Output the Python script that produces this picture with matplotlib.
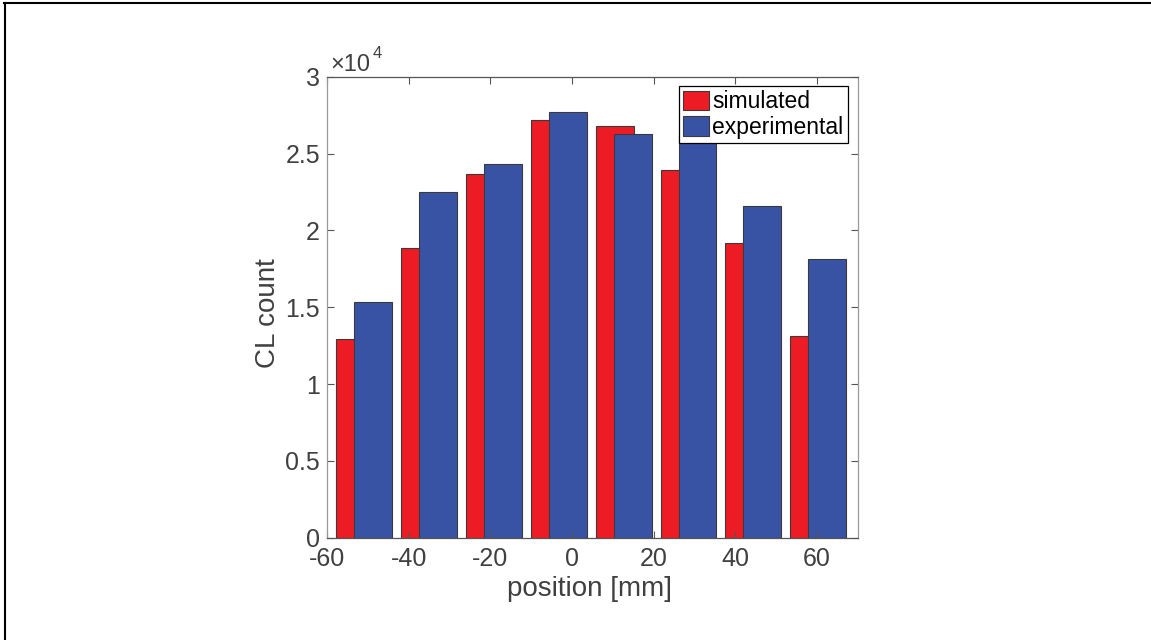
import numpy as np
import matplotlib
matplotlib.use('Agg')
import matplotlib.pyplot as plt
from matplotlib.ticker import FuncFormatter
from matplotlib.lines import Line2D
from matplotlib.transforms import offset_copy

plt.rcParams['font.family'] = ['Liberation Sans', 'DejaVu Sans']
plt.rcParams['axes.unicode_minus'] = False

# group centres [mm]
positions = [-50.95, -35.05, -19.15, -3.25, 12.65, 28.55, 44.45, 60.35]
simulated = [12950, 18870, 23640, 27160, 26820, 23900, 19150, 13150]
experimental = [15320, 22470, 24290, 27680, 26270, 26180, 21600, 18120]

xticks = [-60, -40, -20, 0, 20, 40, 60]
yticks = [0, 5000, 10000, 15000, 20000, 25000, 30000]

red = '#ED1C24'
blue = '#3953A4'
txt = '#404040'
edge = '#3a3a3a'

fig = plt.figure(figsize=(11.51, 6.40), dpi=100)
ax = fig.add_axes([0.2841, 0.1598, 0.4611, 0.7204])

pos = np.array(positions)
ax.bar(pos - 2.2, simulated, width=9.3, color=red, edgecolor=edge, linewidth=0.8, label='simulated')
ax.bar(pos + 2.2, experimental, width=9.3, color=blue, edgecolor=edge, linewidth=0.8, label='experimental')

ax.set_xlim(-60, 70)
ax.set_ylim(0, 30000)
ax.set_xticks(xticks)
ax.set_yticks(yticks)
ax.yaxis.set_major_formatter(FuncFormatter(lambda v, p: '%g' % (v / 1e4)))

ax.tick_params(direction='in', length=5, width=0.8, color='#555555',
               labelcolor=txt, labelsize=18, top=True, right=True)
ax.tick_params(axis='x', pad=7)
ax.tick_params(axis='y', pad=5)
for s in ['left', 'right']:
    ax.spines[s].set_color('#999999')
for s in ['top', 'bottom']:
    ax.spines[s].set_color('#555555')
for s in ax.spines.values():
    s.set_linewidth(0.9)

ax.set_xlabel('position [mm]', fontsize=20, color=txt)
ax.set_ylabel('CL count', fontsize=20, color=txt)
ax.xaxis.set_label_coords(0.494, -0.083)
ax.yaxis.set_label_coords(-0.086, 0.487)

# exponent label, superscript placed right after the base
base = ax.text(0.0057, 1.013, '×10', transform=ax.transAxes,
               fontsize=17, color=txt, ha='left', va='baseline')
fig.canvas.draw()
bb = base.get_window_extent()
x_end = ax.transAxes.inverted().transform((bb.x1, bb.y0))[0]
ax.text(x_end, 1.013, '4', transform=offset_copy(ax.transAxes, fig=fig, x=2, y=9, units='points'),
        fontsize=12, color=txt, ha='left', va='baseline')

leg = ax.legend(loc='upper right', bbox_to_anchor=(0.982, 0.980), borderaxespad=0,
                fontsize=16.5, fancybox=False, framealpha=1, edgecolor='black',
                borderpad=0.2, handlelength=1.13, handleheight=0.92,
                handletextpad=0.15, labelspacing=0.1)
leg.get_frame().set_linewidth(0.9)

# figure border (top and left edges only)
fig.add_artist(Line2D([4 / 1151, 1], [1 - 3 / 640, 1 - 3 / 640], color='black', linewidth=1.5))
fig.add_artist(Line2D([5 / 1151, 5 / 1151], [0, 1 - 3 / 640], color='black', linewidth=1.5))

fig.savefig('out.png', dpi=100)
